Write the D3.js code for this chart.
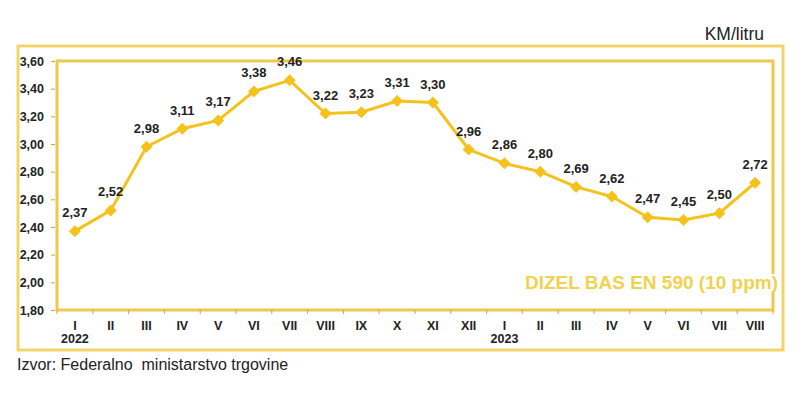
<!DOCTYPE html>
<html><head><meta charset="utf-8">
<script src="https://cdn.jsdelivr.net/npm/d3@7"></script>
<style>body{margin:0;background:#fff}svg{display:block}</style>
</head><body>
<script>
const months = ["I","II","III","IV","V","VI","VII","VIII","IX","X","XI","XII","I","II","III","IV","V","VI","VII","VIII"];
const years = ["2022","","","","","","","","","","","","2023","","","","","","",""];
const values = [2.37,2.52,2.98,3.11,3.17,3.38,3.46,3.22,3.23,3.31,3.30,2.96,2.86,2.80,2.69,2.62,2.47,2.45,2.50,2.72];
const yTicks = [1.8,2.0,2.2,2.4,2.6,2.8,3.0,3.2,3.4,3.6];
const seriesName = "DIZEL BAS EN 590 (10 ppm)";
const unit = "KM/litru";
const source = "Izvor: Federalno  ministarstvo trgovine";

const W=800,H=393;
const svg=d3.select("body").append("svg").attr("width",W).attr("height",H);
const L=57,R=773,T=61,B=310;
const fmt=v=>d3.format(".2f")(v).replace(".",",");
const x=d3.scaleBand().domain(d3.range(months.length)).range([L,R]);
const y=d3.scaleLinear().domain([1.8,3.6]).range([B,T]);
const gold="#F5C21B";
const font="Arial, Liberation Sans, sans-serif";

svg.append("rect").attr("x",18).attr("y",46).attr("width",765).attr("height",304)
  .attr("fill","none").attr("stroke","#F2D46C").attr("stroke-width",3);
svg.append("rect").attr("x",L).attr("y",T).attr("width",R-L).attr("height",B-T)
  .attr("fill","#fff").attr("stroke","#EDC94E").attr("stroke-width",3);

const ya=svg.append("g").attr("transform",`translate(${L-2},0)`)
  .call(d3.axisLeft(y).tickValues(yTicks).tickFormat(fmt).tickSize(4).tickPadding(7));
ya.select(".domain").remove();
ya.selectAll("line").attr("stroke","#C9A935");
ya.selectAll("text").attr("font-family",font).attr("font-size",12.5)
  .attr("font-weight","bold").attr("fill","#222");

const xa=svg.append("g").attr("transform",`translate(0,${B+2})`)
  .call(d3.axisBottom(x).tickFormat(i=>months[i]).tickSize(0).tickPadding(9));
xa.select(".domain").remove();
xa.selectAll("text").attr("font-family",font).attr("font-size",12.5)
  .attr("font-weight","bold").attr("fill","#222");
svg.append("g").selectAll("line").data(d3.range(months.length+1)).join("line")
  .attr("x1",i=>L+i*x.step()).attr("x2",i=>L+i*x.step()).attr("y1",B).attr("y2",B+4)
  .attr("stroke","#C9A935");
svg.append("g").selectAll("text").data(years.map((t,i)=>({t,i})).filter(d=>d.t)).join("text")
  .attr("x",d=>x(d.i)+x.bandwidth()/2).attr("y",343).attr("text-anchor","middle")
  .attr("font-family",font).attr("font-size",12.5)
  .attr("font-weight","bold").attr("fill","#222").text(d=>d.t);

const cx=i=>x(i)+x.bandwidth()/2;
svg.append("path").datum(values).attr("fill","none").attr("stroke",gold).attr("stroke-width",3)
  .attr("d",d3.line().x((d,i)=>cx(i)).y(d=>y(d)));
svg.append("g").selectAll("path").data(values).join("path")
  .attr("transform",(d,i)=>`translate(${cx(i)},${y(d)}) rotate(45)`)
  .attr("d",d3.symbol(d3.symbolSquare,72)).attr("fill",gold);
svg.append("g").selectAll("text").data(values).join("text")
  .attr("x",(d,i)=>cx(i)).attr("y",d=>y(d)-14).attr("text-anchor","middle")
  .attr("font-family",font).attr("font-size",13)
  .attr("font-weight","bold").attr("fill","#222").text(fmt);

const lab=svg.append("text").attr("x",778).attr("y",289).attr("text-anchor","end")
  .attr("font-family",font).attr("font-size",19)
  .attr("font-weight","bold").attr("fill","#F0D24E").text(seriesName);
const bb=lab.node().getBBox();
svg.insert("rect",()=>lab.node()).attr("x",bb.x).attr("y",bb.y+2).attr("width",bb.width).attr("height",bb.height-4).attr("fill","#fff");

svg.append("text").attr("x",764).attr("y",40).attr("text-anchor","end")
  .attr("font-family",font).attr("font-size",17.5)
  .attr("fill","#222").text(unit);
svg.append("text").attr("x",17).attr("y",370)
  .attr("font-family",font).attr("font-size",16)
  .attr("fill","#222").style("white-space","pre").text(source);
</script>
</body></html>
